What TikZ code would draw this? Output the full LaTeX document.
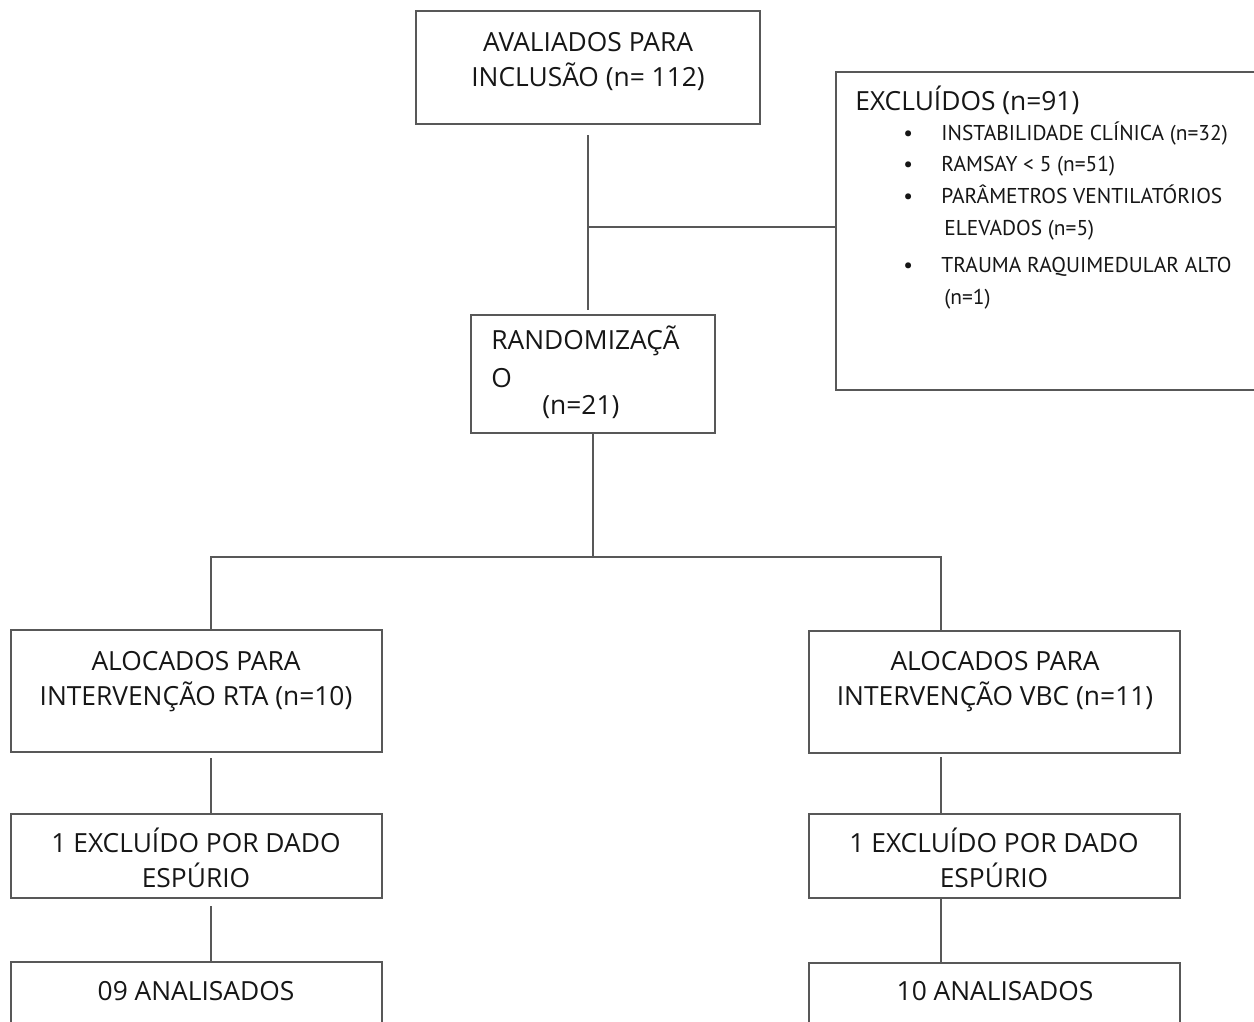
\documentclass[tikz,border=0pt]{standalone}
\usepackage{fontspec}
\setmainfont{Open Sans}
\newfontfamily\itemfont{PT Sans}
\usepackage{xcolor}

\definecolor{linegray}{RGB}{88,88,88}
\definecolor{inkgray}{RGB}{22,22,22}

\begin{document}
\begin{tikzpicture}[x=0.2mm, y=-0.2mm,
    box/.style={draw=linegray, line width=0.4mm, inner sep=0pt, minimum width=74.2mm, minimum height=24.4mm},
    link/.style={draw=linegray, line width=0.4mm},
    txt/.style={font=\fontsize{15}{19.9}\selectfont, text=inkgray, inner sep=0pt, align=center},
    itemtxt/.style={font=\itemfont\fontsize{12.2}{18.2}\selectfont, text=inkgray, inner sep=0pt}]
    \fill[white] (0,0) rectangle (1254,1021);
    \clip (0,0) rectangle (1254,1021);

    % top part
    \node[box, minimum width=68.8mm, minimum height=22.6mm] (aval) at (588,67.5) {};
    \node[txt, anchor=north] (avaltext) at (588,32) {AVALIADOS PARA\\INCLUSÃO (n= 112)};

    \node[box, minimum width=87.6mm, minimum height=63.6mm] (excl) at (1055,231) {};
    \node[txt, anchor=base west] (exclhead) at (855,110) {EXCLUÍDOS (n=91)};
    \node[itemtxt, anchor=base west] (excllist) at (903,140) {\begin{tabular}[t]{@{}p{7.6mm}@{}l@{}}
        \textbullet & INSTABILIDADE CLÍNICA (n=32)\\
        \textbullet & RAMSAY < 5 (n=51)\\
        \textbullet & PARÂMETROS VENTILATÓRIOS\\
                    & \hspace{0.6mm}ELEVADOS (n=5)\\[2.8pt]
        \textbullet & TRAUMA RAQUIMEDULAR ALTO\\
                    & \hspace{0.6mm}(n=1)
    \end{tabular}};

    \node[box, minimum width=48.8mm, minimum height=23.6mm] (rand) at (593,374) {};
    \node[txt, anchor=north west, align=left] (randtext) at (491,325) {RANDOMIZAÇÃ\\[0.6mm]O\\[-1.4mm]\hspace*{10.2mm}(n=21)};

    % two arms
    \node[box] (rta) at (196.5,691) {};
    \node[txt, anchor=north] (rtatext) at (196,651) {ALOCADOS PARA\\INTERVENÇÃO RTA (n=10)};
    \node[box, minimum height=16.8mm] (rtaexc) at (196.5,856) {};
    \node[txt, anchor=north] (rtaexctext) at (196,828) {1 EXCLUÍDO POR DADO\\ESPÚRIO};
    \node[box, minimum height=16.8mm] (rtaana) at (196.5,1004) {};
    \node[txt, anchor=base] (rtaanatext) at (196,1000) {09 ANALISADOS};

    \node[box] (vbc) at (994,692) {};
    \node[txt, anchor=north] (vbctext) at (995,651) {ALOCADOS PARA\\INTERVENÇÃO VBC (n=11)};
    \node[box, minimum height=16.8mm] (vbcexc) at (994,856) {};
    \node[txt, anchor=north] (vbcexctext) at (994,828) {1 EXCLUÍDO POR DADO\\ESPÚRIO};
    \node[box, minimum height=16.8mm] (vbcana) at (994,1005) {};
    \node[txt, anchor=base] (vbcanatext) at (995,1000) {10 ANALISADOS};

    % connectors
    \coordinate (branch) at (589,227);
    \coordinate (split) at (592,557);
    \coordinate (lcol) at (211,0);
    \coordinate (rcol) at (941,0);

    \draw[link, shorten <=2mm, shorten >=0.8mm] (aval.south) -- (aval.south |- rand.north);
    \draw[link] (branch) -- (branch -| excl.west);
    \draw[link] (rand.south) -- (rand.south |- split);
    \draw[link] (lcol |- rta.north) -- (lcol |- split) -- (rcol |- split) -- (rcol |- vbc.north);
    \draw[link, shorten <=1mm] (lcol |- rta.south) -- (lcol |- rtaexc.north);
    \draw[link, shorten <=1.4mm] (lcol |- rtaexc.south) -- (lcol |- rtaana.north);
    \draw[link, shorten <=0.6mm] (rcol |- vbc.south) -- (rcol |- vbcexc.north);
    \draw[link] (rcol |- vbcexc.south) -- (rcol |- vbcana.north);
\end{tikzpicture}
\end{document}
